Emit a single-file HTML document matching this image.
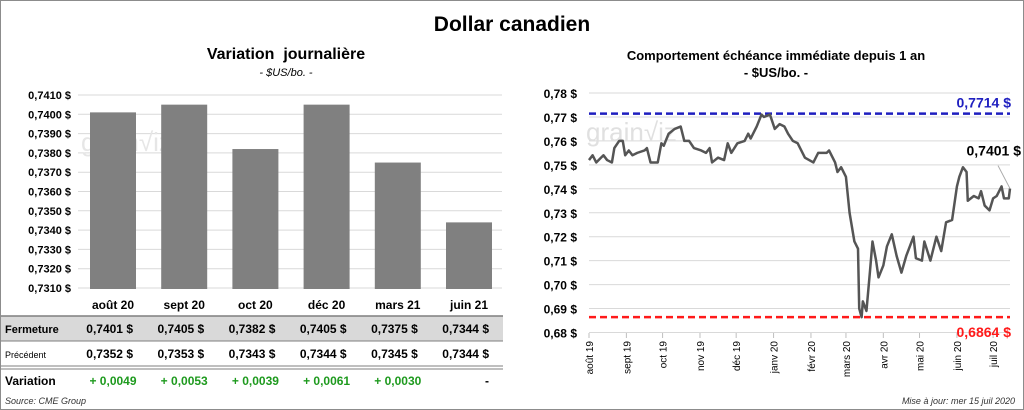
<!DOCTYPE html>
<html><head><meta charset="utf-8"><style>
body{margin:0;background:#fff;font-family:"Liberation Sans",sans-serif}
#wrap{position:relative;width:1022px;height:408px;border:1px solid #8c8c8c;overflow:hidden}
.t{position:absolute;white-space:nowrap}
svg{position:absolute;left:0;top:0}
</style></head><body>
<div id="wrap">
<div class="t" style="left:0;width:1022px;text-align:center;top:12px;font-size:21px;font-weight:bold">Dollar canadien</div>
<div class="t" style="left:60px;width:450px;text-align:center;top:45px;font-size:16px;font-weight:bold">Variation&nbsp; journalière</div>
<div class="t" style="left:60px;width:450px;text-align:center;top:66px;font-size:11px;font-style:italic">- $US/bo. -</div>
<div class="t" style="left:530px;width:490px;text-align:center;top:47px;font-size:13px;font-weight:bold">Comportement échéance immédiate depuis 1 an</div>
<div class="t" style="left:530px;width:490px;text-align:center;top:64px;font-size:13px;font-weight:bold">- $US/bo. -</div>
<div class="t" style="left:4px;top:395px;font-size:9px;font-style:italic;color:#333">Source: CME Group</div>
<div class="t" style="right:8px;top:395px;font-size:9px;font-style:italic;color:#333">Mise à jour: mer 15 juil 2020</div>
<svg id="s" width="1024" height="410"></svg>
</div>
<script>
const barCats=["août 20","sept 20","oct 20","déc 20","mars 21","juin 21"];
const closeVals=[0.7401,0.7405,0.7382,0.7405,0.7375,0.7344];
const prevVals=[0.7352,0.7353,0.7343,0.7344,0.7345,0.7344];
const varVals=[0.0049,0.0053,0.0039,0.0061,0.0030,0];
const barTicks=[0.7410,0.7400,0.7390,0.7380,0.7370,0.7360,0.7350,0.7340,0.7330,0.7320,0.7310];
const lineDays=[0,3,6,10,12,15,19,21,25,28,30,33,36,40,46,48,51,57,60,62,66,71,76,79,83,87,93,97,100,102,107,112,115,118,123,129,132,134,139,143,145,150,154,158,162,165,169,173,179,186,190,197,199,204,206,209,213,216,220,223,224,226,227,230,233,235,238,240,244,247,251,255,259,263,269,271,276,278,283,288,292,296,301,305,307,310,313,314,319,323,325,328,332,335,338,342,344,348,349];
const lineVals=[0.752,0.754,0.751,0.753,0.754,0.752,0.751,0.757,0.760,0.760,0.754,0.756,0.754,0.755,0.756,0.757,0.751,0.751,0.759,0.758,0.763,0.765,0.766,0.760,0.760,0.757,0.756,0.755,0.757,0.751,0.753,0.752,0.759,0.755,0.759,0.760,0.763,0.761,0.766,0.771,0.770,0.771,0.765,0.767,0.766,0.763,0.760,0.759,0.753,0.751,0.755,0.755,0.756,0.751,0.747,0.749,0.745,0.730,0.718,0.715,0.690,0.6864,0.693,0.689,0.706,0.718,0.710,0.703,0.708,0.716,0.721,0.712,0.705,0.712,0.720,0.711,0.710,0.718,0.710,0.720,0.714,0.726,0.727,0.741,0.745,0.749,0.747,0.735,0.737,0.736,0.739,0.733,0.731,0.736,0.737,0.741,0.736,0.736,0.7401];
const lineTicks=[0.78,0.77,0.76,0.75,0.74,0.73,0.72,0.71,0.70,0.69,0.68];
const monthLabels=["août 19","sept 19","oct 19","nov 19","déc 19","janv 20","févr 20","mars 20","avr 20","mai 20","juin 20","juil 20"];
const monthDays=[0,31,61,92,122,153,184,213,244,274,305,335];
const maxVal=0.7714, minVal=0.6864, lastVal=0.7401;

const S=document.getElementById('s');const NS='http://www.w3.org/2000/svg';
function mk(t,a,txt){const e=document.createElementNS(NS,t);for(const k in a)e.setAttribute(k,a[k]);if(txt!==undefined)e.textContent=txt;S.appendChild(e);return e;}
const fmt4=v=>v.toFixed(4).replace('.',',');
const fmt2=v=>v.toFixed(2).replace('.',',');
const by=v=>94+(0.7410-v)*19300, bx=i=>112+i*71.2;
barTicks.forEach(v=>{let e=mk('line',{x1:77,x2:501,y1:by(v),y2:by(v),stroke:'#d9d9d9'});

let t=mk('text',{x:70,y:by(v)+4,'text-anchor':'end','font-size':11,'font-weight':'bold','font-family':'Liberation Sans'},fmt4(v)+' $');
});
let wm=mk('text',{x:80,y:150,'font-size':26,fill:'#e6e6e6','font-family':'Liberation Sans'},'grain\u221Aiz');

closeVals.forEach((v,i)=>{let r=mk('rect',{x:bx(i)-23,y:by(v),width:46,height:288-by(v),fill:'#808080'});
});
let g=mk('rect',{x:0,y:315,width:502,height:25,fill:'#d9d9d9'});
[[0,315,502,'#7f7f7f',1.5],[0,340,502,'#7f7f7f',1],[0,365,502,'#7f7f7f',1],[0,368,502,'#7f7f7f',1]].forEach(a=>{let l=mk('line',{x1:a[0],x2:a[2],y1:a[1],y2:a[1],stroke:a[3],'stroke-width':a[4]});});
[['Fermeture',332,11,'bold'],['Précédent',357,9,'normal'],['Variation',384,12,'bold']].forEach(a=>{let t=mk('text',{x:4,y:a[1],'font-size':a[2],'font-weight':a[3],'font-family':'Liberation Sans'},a[0]);});
barCats.forEach((c,i)=>{const x=bx(i);
let t=mk('text',{x:x,y:308,'text-anchor':'middle','font-size':12,'font-weight':'bold','font-family':'Liberation Sans'},c);
let a=mk('text',{x:x+20,y:332,'text-anchor':'end','font-size':12,'font-weight':'bold','font-family':'Liberation Sans'},fmt4(closeVals[i])+'  $');
let b=mk('text',{x:x+20,y:357,'text-anchor':'end','font-size':12,'font-weight':'bold','font-family':'Liberation Sans'},fmt4(prevVals[i])+'  $');
const d=varVals[i];
let c2=mk('text',{x:d>0?x:x+20,y:384,'text-anchor':d>0?'middle':'end','font-size':12,'font-weight':'bold',fill:d>0?'#1e9a1e':'#000','font-family':'Liberation Sans'},d>0?'+ '+fmt4(d):'-');});
const X0=588,X1=1009,lx=d=>X0+d*(X1-X0)/349,ly=v=>92+(0.78-v)*2395;
lineTicks.forEach(v=>{let e=mk('line',{x1:X0,x2:X1,y1:ly(v),y2:ly(v),stroke:'#d9d9d9'});
let t=mk('text',{x:576,y:ly(v)+5,'text-anchor':'end','font-size':12,'font-weight':'bold','font-family':'Liberation Sans'},fmt2(v)+' $');});
let wm2=mk('text',{x:585,y:140,'font-size':26,fill:'#e0e0e0','font-family':'Liberation Sans'},'grain\u221Aiz');
monthDays.forEach((d,i)=>{const x=lx(d);let tk=mk('line',{x1:x,x2:x,y1:332,y2:337,stroke:'#bfbfbf'});
let t=mk('text',{x:0,y:0,'text-anchor':'end','font-size':10,'font-family':'Liberation Sans',transform:`translate(${x+4},340) rotate(-90)`},monthLabels[i]);});
let hi=mk('line',{x1:X0,x2:X1,y1:ly(maxVal),y2:ly(maxVal),stroke:'#1f1fbf','stroke-width':2.5,'stroke-dasharray':'7,4'});
let lo=mk('line',{x1:X0,x2:X1,y1:ly(minVal),y2:ly(minVal),stroke:'#ff1a1a','stroke-width':2.5,'stroke-dasharray':'7,4'});
let ht=mk('text',{x:1010,y:ly(maxVal)-6,'text-anchor':'end','font-size':14,'font-weight':'bold',fill:'#2020c0','font-family':'Liberation Sans'},fmt4(maxVal)+' $');
let lt=mk('text',{x:1010,y:ly(minVal)+20,'text-anchor':'end','font-size':14,'font-weight':'bold',fill:'#ff1a1a','font-family':'Liberation Sans'},fmt4(minVal)+' $');
let p=mk('polyline',{points:lineDays.map((d,i)=>lx(d)+','+ly(lineVals[i])).join(' '),fill:'none',stroke:'#555','stroke-width':2.5,'stroke-linejoin':'round'});
let cl=mk('line',{x1:lx(349),y1:ly(lastVal),x2:lx(349)-12,y2:ly(lastVal)-23,stroke:'#aaa'});
let la=mk('text',{x:1020,y:ly(lastVal)-33,'text-anchor':'end','font-size':14,'font-weight':'bold','font-family':'Liberation Sans'},fmt4(lastVal)+' $');
</script>
</body></html>
